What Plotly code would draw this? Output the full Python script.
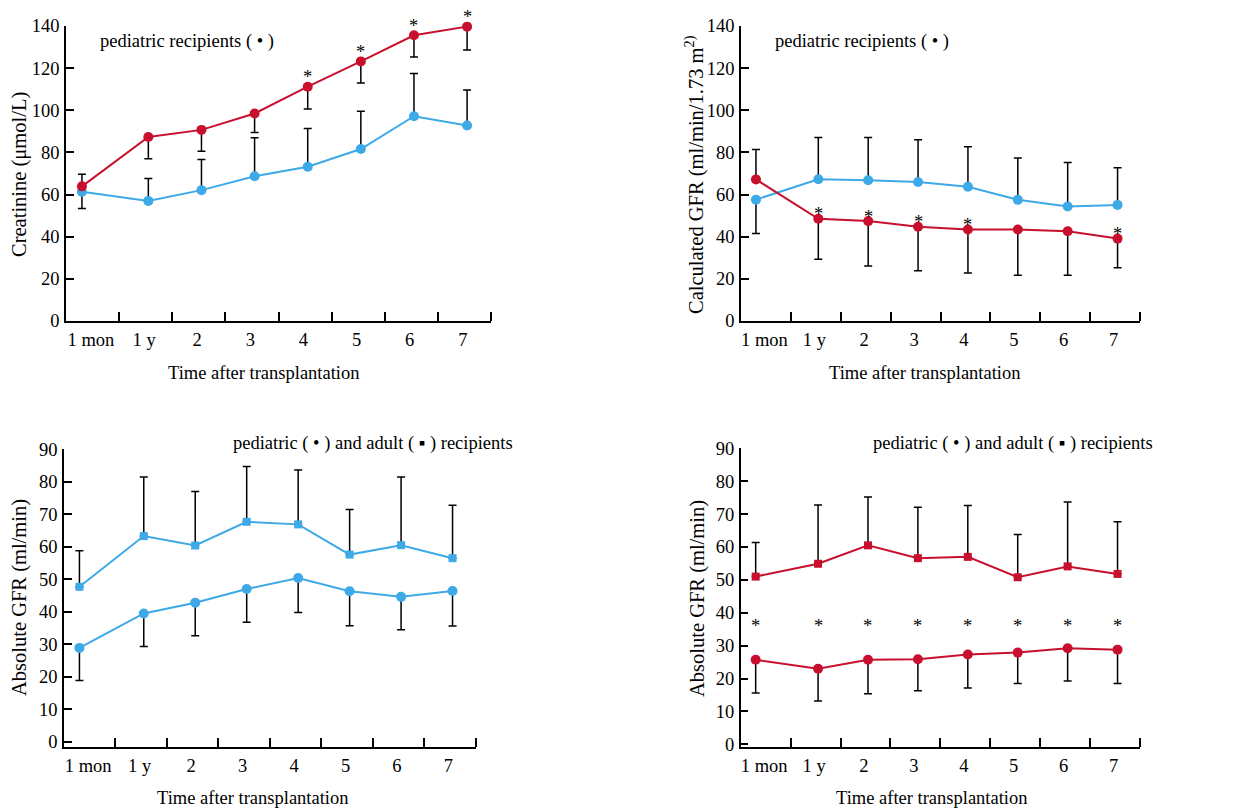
import numpy as np
import plotly.graph_objects as go

# ---------------- data ----------------
time_labels = ["1 mon", "1 y", "2", "3", "4", "5", "6", "7"]

# Panel A: Creatinine (umol/L)
creat_red = [63.9, 87.3, 90.7, 98.5, 111.2, 123.2, 135.6, 139.7]
creat_red_bar_end = [69.6, 77.0, 80.6, 89.5, 100.6, 112.9, 125.3, 128.6]
creat_blue = [61.3, 57.0, 62.1, 68.7, 73.2, 81.6, 97.2, 92.8]
creat_blue_bar_end = [53.4, 67.6, 76.7, 87.0, 91.4, 99.6, 117.4, 109.6]
creat_star_idx = [4, 5, 6, 7]

# Panel B: Calculated GFR (ml/min/1.73 m2)
cgfr_red = [67.2, 48.5, 47.4, 44.7, 43.4, 43.4, 42.6, 39.1]
cgfr_red_bar_end = [81.4, 29.3, 26.1, 23.9, 22.8, 21.7, 21.7, 25.3]
cgfr_blue = [57.6, 67.3, 66.8, 66.0, 63.7, 57.5, 54.3, 55.1]
cgfr_blue_bar_end = [41.5, 87.1, 87.1, 86.0, 82.7, 77.3, 75.2, 72.7]
cgfr_star_idx = [1, 2, 3, 4, 7]

# Panel C: Absolute GFR (ml/min), blue group
absb_adult = [47.7, 63.3, 60.4, 67.7, 66.9, 57.6, 60.5, 56.5]
absb_adult_bar_end = [58.8, 81.5, 77.0, 84.7, 83.6, 71.5, 81.5, 72.8]
absb_ped = [28.9, 39.5, 42.8, 47.0, 50.4, 46.3, 44.6, 46.4]
absb_ped_bar_end = [18.9, 29.3, 32.6, 36.8, 39.8, 35.7, 34.5, 35.6]

# Panel D: Absolute GFR (ml/min), red group
absr_adult = [51.0, 54.9, 60.5, 56.6, 57.0, 50.8, 54.1, 51.8]
absr_adult_bar_end = [61.4, 72.8, 75.2, 72.1, 72.6, 63.8, 73.7, 67.7]
absr_ped = [25.7, 23.0, 25.7, 25.9, 27.3, 27.9, 29.2, 28.8]
absr_ped_bar_end = [15.6, 13.2, 15.4, 16.3, 17.1, 18.5, 19.3, 18.5]
absr_star_level = 37.4

# ---------------- styling ----------------
W, H = 1259, 810
RED = "#C8102E"
BLUE = "#3DA9E6"
FONT = "Liberation Serif"
FS = 18.5
FS_YTITLE = 20.5


def PX(sx):
    return sx / W


def PY(sy):
    return 1 - sy / H


slot_x = np.arange(len(time_labels)) + 0.55
slot_x[0] = 0.3
label_x = np.arange(len(time_labels)) + 0.47


def err(vals, ends):
    v = np.array(vals, dtype=float)
    e = np.array(ends, dtype=float)
    return dict(type="data", symmetric=False,
                array=np.clip(e - v, 0, None).tolist(),
                arrayminus=np.clip(v - e, 0, None).tolist(),
                color="black", thickness=1.5, width=4)


def series(vals, ends, color, symbol, size, xa, ya):
    return go.Scatter(x=slot_x, y=vals, mode="lines+markers",
                      line=dict(color=color, width=2),
                      marker=dict(color=color, symbol=symbol, size=size),
                      error_y=err(vals, ends), xaxis=xa, yaxis=ya,
                      showlegend=False, cliponaxis=False)


fig = go.Figure()
# Panel A
fig.add_trace(series(creat_blue, creat_blue_bar_end, BLUE, "circle", 10, "x", "y"))
fig.add_trace(series(creat_red, creat_red_bar_end, RED, "circle", 10, "x", "y"))
# Panel B
fig.add_trace(series(cgfr_blue, cgfr_blue_bar_end, BLUE, "circle", 10, "x2", "y2"))
fig.add_trace(series(cgfr_red, cgfr_red_bar_end, RED, "circle", 10, "x2", "y2"))
# Panel C
fig.add_trace(series(absb_adult, absb_adult_bar_end, BLUE, "square", 8, "x3", "y3"))
fig.add_trace(series(absb_ped, absb_ped_bar_end, BLUE, "circle", 10, "x3", "y3"))
# Panel D
fig.add_trace(series(absr_adult, absr_adult_bar_end, RED, "square", 8, "x4", "y4"))
fig.add_trace(series(absr_ped, absr_ped_bar_end, RED, "circle", 10, "x4", "y4"))


def xaxis(domain, anchor):
    return dict(domain=domain, anchor=anchor, range=[0, 8], automargin=False,
                tickmode="array", tickvals=label_x.tolist(), ticktext=time_labels,
                ticks="", ticklabelstandoff=1,
                minor=dict(tickmode="array", tickvals=list(range(1, 9)),
                           ticks="inside", ticklen=9, tickwidth=1.5, tickcolor="black"),
                showline=True, linecolor="black", linewidth=1.5,
                showgrid=False, zeroline=False,
                tickfont=dict(family=FONT, size=FS, color="black"))


def yaxis(domain, anchor, rng, dtick):
    return dict(domain=domain, anchor=anchor, range=rng, automargin=False,
                tickmode="linear", tick0=0, dtick=dtick,
                ticks="inside", ticklen=8, tickwidth=1.5, tickcolor="black",
                ticklabelstandoff=1,
                showline=True, linecolor="black", linewidth=1.5,
                showgrid=False, zeroline=False,
                tickfont=dict(family=FONT, size=FS, color="black"))


top_dom = [PY(321), PY(26)]
fig.update_layout(
    width=W, height=H,
    margin=dict(l=0, r=0, t=0, b=0, autoexpand=False),
    paper_bgcolor="white", plot_bgcolor="white",
    font=dict(family=FONT, size=FS, color="black"),
    xaxis=xaxis([PX(66), PX(491)], "y"),
    yaxis=yaxis(top_dom, "x", [0, 140], 20),
    xaxis2=xaxis([PX(741), PX(1140)], "y2"),
    yaxis2=yaxis(top_dom, "x2", [0, 140], 20),
    xaxis3=xaxis([PX(64), PX(475.7)], "y3"),
    yaxis3=yaxis([PY(747), PY(449.3)], "x3", [-1.6, 90], 10),
    xaxis4=xaxis([PX(740.7), PX(1140)], "y4"),
    yaxis4=yaxis([PY(747), PY(448.3)], "x4", [-0.8, 90], 10),
)

ann = []


def text(s, x, y, angle=0, anchor="center", size=FS):
    ann.append(dict(text=s, x=PX(x), y=PY(y), xref="paper", yref="paper",
                    showarrow=False, textangle=angle, xanchor=anchor, yanchor="middle",
                    font=dict(family=FONT, size=size, color="black")))


def star(xv, yv, xa, ya, shift):
    ann.append(dict(text="*", x=xv, y=yv, xref=xa, yref=ya, showarrow=False,
                    xanchor="center", yanchor="middle", yshift=shift,
                    font=dict(family=FONT, size=FS, color="black")))


for i in creat_star_idx:
    star(slot_x[i], creat_red[i], "x", "y", 9.5)
for i in cgfr_star_idx:
    star(slot_x[i], cgfr_red[i], "x2", "y2", 4.5)
for xv in slot_x:
    star(xv, absr_star_level, "x4", "y4", -4.6)

text("pediatric recipients ( \u2022 )", 98, 42, anchor="left")
text("pediatric recipients ( \u2022 )", 773, 42, anchor="left")
text("pediatric ( \u2022 ) and adult ( \u25aa ) recipients", 231, 443, anchor="left")
text("pediatric ( \u2022 ) and adult ( \u25aa ) recipients", 871, 443, anchor="left")

text("Creatinine (\u03bcmol/L)", 20, 175, angle=-90, size=FS_YTITLE)
text("Calculated GFR (ml/min/1.73 m<sup>2)</sup>", 695, 175, angle=-90, size=FS_YTITLE)
text("Absolute GFR (ml/min)", 19, 598, angle=-90, size=FS_YTITLE)
text("Absolute GFR (ml/min)", 697, 598, angle=-90, size=FS_YTITLE)

text("Time after transplantation", 263, 373)
text("Time after transplantation", 924, 373)
text("Time after transplantation", 252, 798)
text("Time after transplantation", 931, 798)

fig.update_layout(annotations=ann)
fig.write_html("out.html", config={"displayModeBar": False},
               post_script="document.body.style.margin='0px';")
